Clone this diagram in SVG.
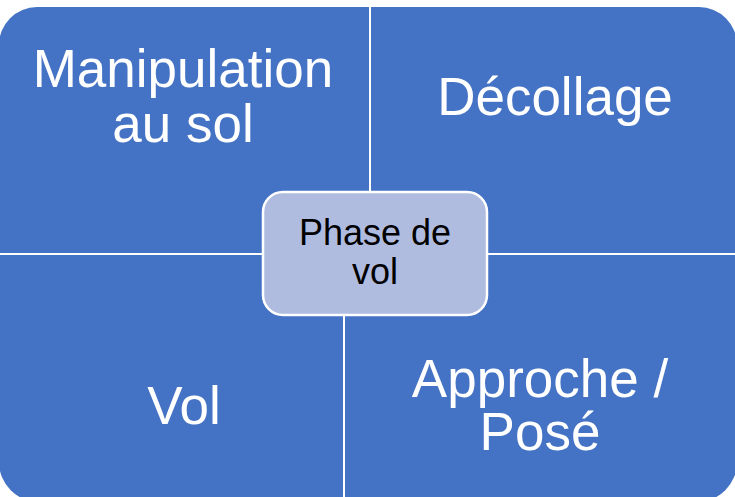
<svg xmlns="http://www.w3.org/2000/svg" width="735" height="497" viewBox="0 0 735 497">
<style>
.q{fill:#4472C4;}
.big{font-family:"Liberation Sans",Arial,sans-serif;font-size:53px;fill:#FFFFFF;text-anchor:middle;}
.ctr{font-family:"Liberation Sans",Arial,sans-serif;font-size:36px;fill:#000000;text-anchor:middle;}
</style>
<rect width="735" height="497" fill="#FFFFFF"/>
<g id="manipulation">
<path class="q" d="M-1,45 A38,38 0 0 1 37,7 L369,7 L369,253 L-1,253 Z"/>
<text class="big" x="183" y="87">Manipulation</text>
<text class="big" x="183" y="142">au sol</text>
</g>
<g id="decollage">
<path class="q" d="M371,7 L699,7 A38,38 0 0 1 737,45 L737,253 L371,253 Z"/>
<text class="big" x="555" y="115">Décollage</text>
</g>
<g id="vol">
<path class="q" d="M-1,255 L343,255 L343,502 L39,502 A40,40 0 0 1 -1,462 Z"/>
<text class="big" x="184" y="424">Vol</text>
</g>
<g id="approche">
<path class="q" d="M345,255 L737,255 L737,462 A40,40 0 0 1 697,502 L345,502 Z"/>
<text class="big" x="540" y="397">Approche /</text>
<text class="big" x="540" y="450">Posé</text>
</g>
<g id="connectors"></g>
<g id="phase">
<rect x="263" y="192" width="224" height="123" rx="20" ry="20" fill="#B0BCDF" stroke="#FFFFFF" stroke-width="2.5"/>
<text class="ctr" x="375" y="245">Phase de</text>
<text class="ctr" x="375" y="284">vol</text>
</g>
</svg>
